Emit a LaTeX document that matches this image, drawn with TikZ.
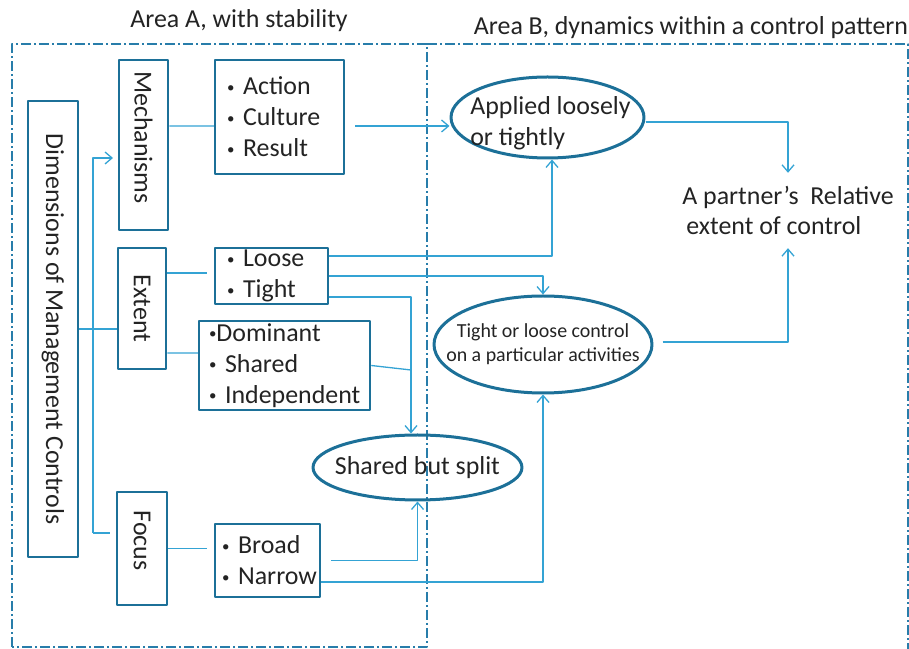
\documentclass[tikz,border=0pt]{standalone}
\usepackage{fontspec}
\setmainfont{Carlito}
\usepackage{tikz}
\usetikzlibrary{arrows.meta,shapes}
\definecolor{boxblue}{RGB}{28,112,152}
\definecolor{linkblue}{RGB}{52,163,212}
\definecolor{areablue}{RGB}{40,125,170}
\definecolor{textgray}{RGB}{35,35,35}
\newcommand{\bul}{\raisebox{2.5bp}{\fontsize{15}{15}\selectfont •}}

\begin{document}
\begin{tikzpicture}[>={Straight Barb[length=7bp,width=12bp]},line join=bevel,
  every node/.style={text=textgray,font=\fontsize{26}{31}\selectfont},
  box/.style={draw=boxblue,line width=2.5bp,rectangle,inner sep=0pt},
  list/.style={box,align=left,inner xsep=12bp,
    execute at begin node={\hyphenpenalty=10000 \exhyphenpenalty=10000 }},
  oval/.style={draw=boxblue,line width=3bp,ellipse},
  link/.style={draw=linkblue,line width=1.3bp},
  area/.style={draw=areablue,line width=1.3bp,dash pattern=on 10bp off 3bp on 2bp off 3bp},
  smalltext/.style={font=\fontsize{20}{24}\selectfont}]
%%
\useasboundingbox (0bp,0bp) rectangle (909bp,649bp);
\draw [area] (12bp,2bp) rectangle (427bp,605bp);
\draw [area] (427bp,605bp) -- (908bp,605bp) -- (908bp,-10bp);
\node (areaA) at (239bp,621bp) [anchor=base] {Area A, with stability};
  \node (areaB) at (691bp,614bp) [anchor=base] {Area B, dynamics within a control pattern};
  \node (dim) at (53bp,320bp) [box,minimum width=50bp,minimum height=456bp] {\rotatebox{-90}{Dimensions of Management Controls}};
  \node (mech) at (143.5bp,504bp) [box,minimum width=49bp,minimum height=170bp] {\rotatebox{-90}{Mechanisms\hspace{15bp}}};
  \node (ext) at (142bp,340.5bp) [box,minimum width=48bp,minimum height=121bp] {\rotatebox{-90}{Extent}};
  \node (foc) at (142bp,100.5bp) [box,minimum width=50bp,minimum height=113bp] {\rotatebox{-90}{Focus\hspace{16bp}}};
  \node (acr) at (279.5bp,532bp) [list,text width=105bp,minimum height=114bp] {\bul~Action\\\bul~Culture\\\bul~Result};
  \node (lt) at (271.5bp,373bp) [list,text width=89bp,minimum height=56bp] {\bul~Loose\\\bul~Tight};
  \node (dsi) at (284.5bp,283.5bp) [list,inner xsep=10bp,text width=151bp,minimum height=89bp] {\bul Dominant\\\bul~Shared\\\bul~Independent};
  \node (bn) at (267.5bp,88.5bp) [list,inner xsep=7bp,text width=91bp,minimum height=73bp] {\bul~Broad\\\bul~Narrow};
  \node (app) at (547.5bp,531.5bp) [oval,minimum width=193bp,minimum height=81bp] {};
  \node (apptxt) at ([xshift=3bp,yshift=-6bp]app.center) [align=left] {Applied loosely\\or tightly};
  \node (tlc) at (543bp,304.5bp) [oval,minimum width=218bp,minimum height=97bp] {};
  \node (tlctxt) at (tlc.center) [smalltext,align=center] {Tight or loose control\\on a particular activities};
  \node (split) at (417.5bp,181.5bp) [oval,minimum width=209bp,minimum height=65bp] {};
  \node (splittxt) at (split.center) {Shared but split};
  \node (partner) at (788bp,438.5bp) [align=left,minimum height=75bp] {A partner’s~ Relative\\\hspace{4bp}extent of control};
  \coordinate (brtop) at (93bp,491bp);
  \coordinate (brbot) at (93bp,116bp);
  \coordinate (join) at (411bp,279bp);
  \draw [link] (dim.east) -- (dim.east -| ext.west);
  \draw [link,->] (brbot) -- (brtop) -- ++(20bp,0);
  \draw [link] (brbot) -- ++(17bp,0);
  \draw [link] ([yshift=19bp]mech.east) -- ([yshift=-9bp]acr.west);
  \draw [link,->] ([xshift=10bp,yshift=-9bp]acr.east) -- ([yshift=-8.5bp]app.west);
  \draw [link] ([yshift=35.5bp]ext.east) -- ([xshift=-7bp,yshift=3bp]lt.west);
  \draw [link] ([yshift=-44.5bp]ext.east) -- ([yshift=12.5bp]dsi.west);
  \draw [link] (foc.east) -- ([xshift=-7bp,yshift=12bp]bn.west);
  \draw [link,->] ([yshift=20bp]lt.east) -| ([xshift=4.5bp]app.south);
  \draw [link,->] (lt.east) -| (tlc.north);
  \draw [link,->] ([yshift=-21bp]lt.east) -| ([xshift=-6.5bp]split.north);
  \draw [link] (dsi.east) -- (join);
  \draw [link,->] ([xshift=10bp]bn.east) -| (split.south);
  \draw [link,->] ([yshift=-21.5bp]bn.east) -| (tlc.south);
  \draw [link,->] ([yshift=-4.5bp]app.east) -| (partner.north);
  \draw [link,->] ([xshift=9bp,yshift=2.5bp]tlc.east) -| (partner.south);
%
\end{tikzpicture}
\end{document}
